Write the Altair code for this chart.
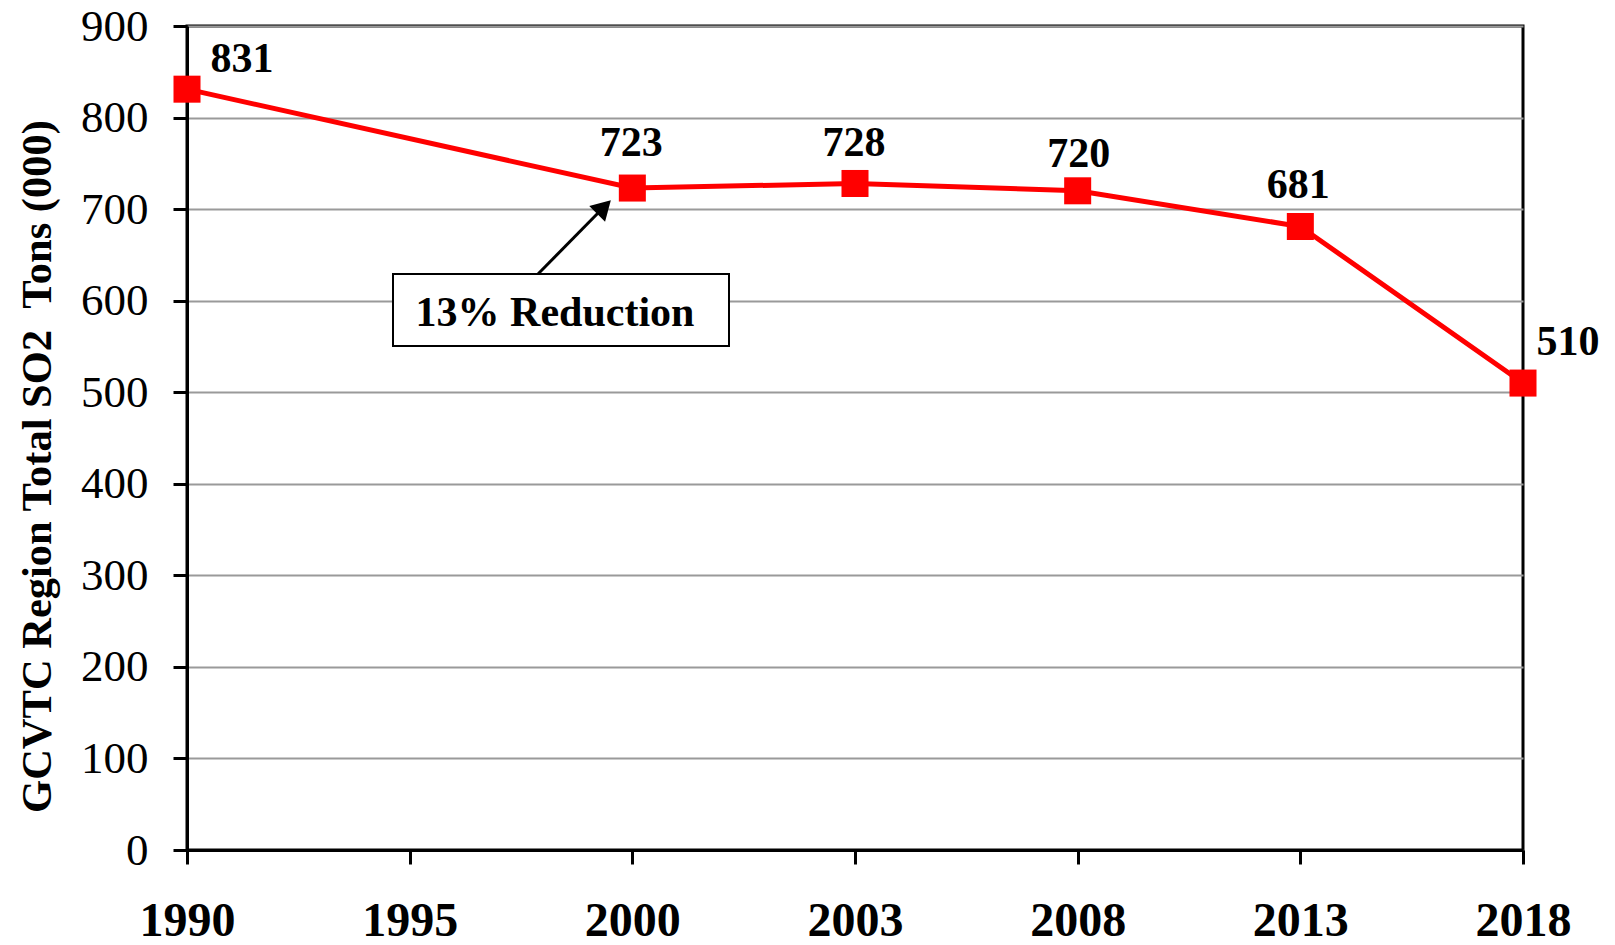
import altair as alt
import pandas as pd

axis_years = ["1990", "1995", "2000", "2003", "2008", "2013", "2018"]
years = ["1990", "2000", "2003", "2008", "2013", "2018"]
so2 = [831, 723, 728, 720, 681, 510]
y_ticks = [0, 100, 200, 300, 400, 500, 600, 700, 800, 900]
annotation_text = ["13% Reduction"]

df = pd.DataFrame({"year": years, "so2": so2})
ann = pd.DataFrame({"label": annotation_text})

FONT = "Liberation Serif"
RED = "#ff0000"

x_enc = alt.X(
    "year:O",
    scale=alt.Scale(type="point", domain=axis_years, padding=0),
    axis=alt.Axis(
        title=None, labelAngle=0, grid=False, labelFont=FONT, labelFontSize=48,
        labelFontWeight="bold", labelColor="black", tickColor="black", tickWidth=3,
        tickSize=14, domainColor="black", domainWidth=3, labelPadding=33,
    ),
)
y_enc = alt.Y(
    "so2:Q",
    scale=alt.Scale(domain=[0, 900], nice=False),
    axis=alt.Axis(
        values=y_ticks, title="GCVTC Region Total SO2\u00a0\u00a0Tons (000)",
        titleFont=FONT, titleFontSize=42.5, titleFontWeight="bold", titleColor="black",
        titleAngle=-90, titleX=-150, titleY=440, titleAlign="center", titleBaseline="middle",
        labelFont=FONT, labelFontSize=45, labelColor="black", labelPadding=25,
        tickColor="black", tickWidth=3, tickSize=14, domainColor="black", domainWidth=3,
        gridColor="#9a9a9a", gridWidth=2,
    ),
)

base = alt.Chart(df).encode(x=x_enc, y=y_enc)

line = base.mark_line(color=RED, strokeWidth=5)
pts = base.mark_square(size=730, color=RED, filled=True, opacity=1)

lab_style = dict(font=FONT, fontSize=42, fontWeight="bold", color="black", baseline="middle", align="center")
label_offsets = {
    "1990": (55, -30),
    "2000": (-1, -45),
    "2003": (-1, -40),
    "2008": (1, -37),
    "2013": (-2, -42),
    "2018": (45, -41),
}
labels = [
    base.transform_filter(alt.datum.year == yr).mark_text(dx=dx, dy=dy, **lab_style).encode(text="so2:Q")
    for yr, (dx, dy) in label_offsets.items()
]

annb = alt.Chart(ann)
box = annb.mark_rect(fill="white", stroke="black", strokeWidth=2).encode(
    x=alt.value(206), x2=alt.value(542), y=alt.value(248), y2=alt.value(320))
box_text = annb.mark_text(font=FONT, fontSize=42, fontWeight="bold", color="black",
                          align="center", baseline="middle", dy=3).encode(
    x=alt.value(368), y=alt.value(284), text="label:N")
arrow_line = annb.mark_rule(color="black", strokeWidth=3).encode(
    x=alt.value(351), y=alt.value(248), x2=alt.value(415), y2=alt.value(183))
arrow_head = annb.mark_point(shape="triangle-up", filled=True, color="black", size=500,
                             angle=45, opacity=1).encode(x=alt.value(417), y=alt.value(181))

chart = alt.layer(line, pts, *labels, box, box_text, arrow_line, arrow_head).properties(
    width=1336, height=824,
    autosize=alt.AutoSizeParams(type="none"),
    padding={"left": 179, "top": 18, "right": 80, "bottom": 87},
    background="white",
).configure_view(stroke="black", strokeWidth=3)

chart.save("out.html", embed_options={"renderer": "svg", "actions": False})
